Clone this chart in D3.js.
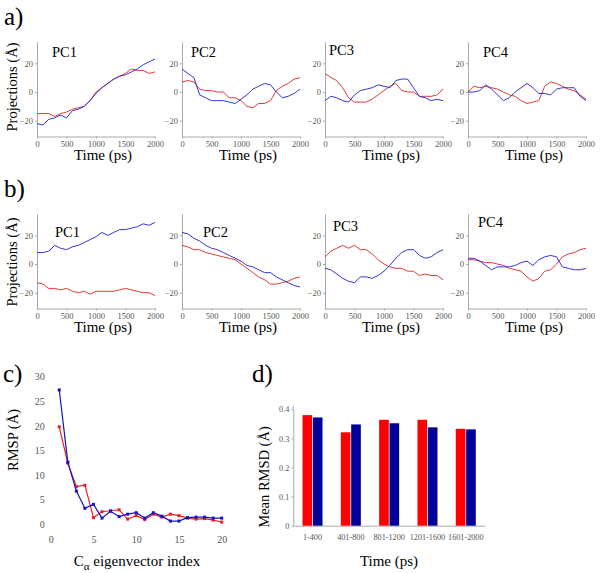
<!DOCTYPE html>
<html>
<head>
<meta charset="utf-8">
<script src="https://cdn.jsdelivr.net/npm/d3@7"></script>
<style>
  body { margin: 0; background: #fff; }
  svg, svg text { font-family: "Liberation Serif", "Times New Roman", serif; }
</style>
</head>
<body>
<div id="fig"></div>
<script>
// time grid (ps) for the projection traces
const time = [0, 100, 200, 300, 400, 500, 600, 700, 800, 900, 1000,
  1100, 1200, 1300, 1400, 1500, 1600, 1700, 1800, 1900, 2000];

// a) projections
const aPC1Blue = [-22, -23, -19, -18, -16, -18, -13, -12, -10, -6, -1, 3, 6, 9, 11, 12, 14, 16, 19, 21, 23];
const aPC1Red  = [-15, -15, -15, -17, -15, -14, -12, -11, -10, -6, 0, 3, 6, 9, 11, 13, 16, 15, 15, 13, 14];
const aPC2Blue = [16, 13, 10, -2, -4, -6, -6, -6, -7, -8, -5, -2, 2, 4, 6, 5, 0, -4, -3, -1, 2];
const aPC2Red  = [7, 8, 7, 2, 1, 1, 0, 0, -4, -4, -6, -10, -11, -8, -8, -6, 1, 4, 6, 9, 10];
const aPC3Blue = [-6, -3, -4, -6, -7, -2, 1, 2, 3, 5, 4, 3, 8, 9, 9, 3, -3, -4, -6, -5, -6];
const aPC3Red  = [13, 10, 8, 3, -4, -7, -7, -7, -5, -2, 1, 4, 6, 1, 0, 0, -3, -3, -3, -2, 2];
const aPC4Blue = [0, 0, 1, 5, 2, -2, -6, -4, 0, 3, 6, 3, -1, -1, -2, 2, 3, 3, 3, -3, -6];
const aPC4Red  = [0, 4, 3, 4, 3, 2, 0, -2, -3, -6, -8, -7, -6, 4, 7, 6, 4, 2, 1, -2, -5];

// b) projections
const bPC1Blue = [8, 8, 9, 13, 11, 10, 12, 13, 15, 17, 19, 22, 20, 22, 24, 24, 25, 26, 28, 27, 29];
const bPC1Red  = [-13, -14, -17, -17, -18, -17, -19, -20, -19, -21, -19, -19, -19, -19, -18, -17, -18, -19, -20, -20, -22];
const bPC2Blue = [22, 21, 18, 16, 13, 11, 10, 8, 6, 4, 2, -1, -2, -4, -6, -6, -9, -11, -13, -15, -16];
const bPC2Red  = [13, 12, 10, 10, 8, 7, 6, 5, 4, 3, 0, -3, -6, -9, -11, -14, -14, -13, -12, -10, -9];
const bPC3Blue = [-3, -4, -7, -10, -12, -13, -9, -9, -10, -8, -5, -1, 4, 8, 10, 10, 6, 4, 5, 8, 10];
const bPC3Red  = [5, 9, 11, 13, 11, 13, 10, 10, 7, 3, 0, -2, -3, -3, -5, -5, -8, -7, -8, -8, -11];
const bPC4Blue = [4, 4, 2, -1, -4, -2, -2, -2, -1, 1, 2, -1, 3, 5, 6, 5, -2, -3, -4, -4, -3];
const bPC4Red  = [3, 3, 2, 1, 1, 0, -1, -3, -4, -5, -9, -12, -10, -5, -4, 0, 5, 7, 8, 10, 11];

// c) RMSP per eigenvector
const eigIndex = [1, 2, 3, 4, 5, 6, 7, 8, 9, 10, 11, 12, 13, 14, 15, 16, 17, 18, 19, 20];
const rmspBlue = [27.3, 12.6, 6.7, 3.2, 4.0, 1.2, 2.6, 1.5, 2.0, 2.3, 1.2, 2.3, 1.6, 0.6, 0.6, 1.3, 1.4, 1.4, 1.2, 1.2];
const rmspRed  = [19.8, 12.4, 7.6, 7.9, 1.3, 2.5, 2.7, 2.9, 1.0, 1.7, 0.9, 2.0, 1.4, 2.0, 1.7, 1.2, 1.0, 1.1, 0.8, 0.4];

// d) mean RMSD per time window
const windows = ['1-400', '401-800', '801-1200', '1201-1600', '1601-2000'];
const rmsdRed  = [0.380, 0.321, 0.364, 0.364, 0.333];
const rmsdBlue = [0.372, 0.348, 0.352, 0.338, 0.331];

const W = 600, H = 573;
const serif = '"Liberation Serif", "Times New Roman", serif';
const lineBlue = '#3535d2', lineRed = '#e03a3a';
const axisGrey = '#aaa', tickText = '#555';

const svg = d3.select('#fig').append('svg')
  .attr('width', W).attr('height', H)
  .attr('viewBox', `0 0 ${W} ${H}`)
  .attr('font-family', serif);

// d3 axes put their own sans-serif on the group, take it back off
const styleTicks = (g, size) => {
  g.selectAll('g').attr('font-family', null).attr('font-size', null);
  g.selectAll('.domain, .tick line').attr('stroke', axisGrey);
  g.selectAll('.tick text')
    .attr('fill', tickText)
    .attr('font-family', serif)
    .attr('font-size', size);
};

// one small projection panel
const drawProj = (x0, yZero, title, titleDx, titleY, blue, red) => {
  const x = d3.scaleLinear().domain([0, 2000]).range([x0, x0 + 118]);
  const y = d3.scaleLinear().domain([-31, 35]).range([yZero + 44.5, yZero - 50.2]);
  const g = svg.append('g');

  g.append('g')
    .attr('transform', `translate(${x0},0)`)
    .call(d3.axisLeft(y).tickValues([-20, 0, 20]).tickSize(2).tickSizeOuter(0).tickPadding(2));

  g.append('g')
    .attr('transform', `translate(0,${y(-31)})`)
    .call(d3.axisBottom(x).tickValues([0, 500, 1000, 1500, 2000]).tickFormat(d3.format('d'))
      .tickSize(2).tickSizeOuter(0).tickPadding(2));

  styleTicks(g, 8.5);

  const line = d3.line()
    .x((d, i) => x(time[i]))
    .y(d => y(d));

  g.append('path').datum(red)
    .attr('fill', 'none').attr('stroke', lineRed).attr('stroke-width', 1)
    .attr('d', line);
  g.append('path').datum(blue)
    .attr('fill', 'none').attr('stroke', lineBlue).attr('stroke-width', 1)
    .attr('d', line);

  g.append('text')
    .attr('x', x0 + titleDx).attr('y', titleY)
    .attr('font-size', 14.5)
    .text(title);

  g.append('text')
    .attr('x', x0 + 66).attr('y', yZero + 68)
    .attr('text-anchor', 'middle')
    .attr('font-size', 15)
    .text('Time (ps)');
};

const cols = [37, 182, 325, 468];

// row a
svg.append('text').attr('x', 4).attr('y', 25).attr('font-size', 25).text('a)');
drawProj(cols[0], 92, 'PC1', 15, 57, aPC1Blue, aPC1Red);
drawProj(cols[1], 92, 'PC2', 9, 57, aPC2Blue, aPC2Red);
drawProj(cols[2], 92, 'PC3', 4, 55, aPC3Blue, aPC3Red);
drawProj(cols[3], 92, 'PC4', 15, 57, aPC4Blue, aPC4Red);
svg.append('text')
  .attr('transform', 'translate(17,87) rotate(-90)')
  .attr('text-anchor', 'middle')
  .attr('font-size', 14.5)
  .text('Projections (Å)');

// row b
svg.append('text').attr('x', 4).attr('y', 197).attr('font-size', 25).text('b)');
drawProj(cols[0], 264, 'PC1', 18, 237, bPC1Blue, bPC1Red);
drawProj(cols[1], 264, 'PC2', 21, 237, bPC2Blue, bPC2Red);
drawProj(cols[2], 264, 'PC3', 8, 231, bPC3Blue, bPC3Red);
drawProj(cols[3], 264, 'PC4', 10, 227, bPC4Blue, bPC4Red);
svg.append('text')
  .attr('transform', 'translate(17,262) rotate(-90)')
  .attr('text-anchor', 'middle')
  .attr('font-size', 14.5)
  .text('Projections (Å)');

// c) RMSP
const cx = d3.scaleLinear().domain([0, 20]).range([50.7, 221.7]);
const cy = d3.scaleLinear().domain([0, 30]).range([524, 376.7]);
const gc = svg.append('g');

gc.append('g')
  .attr('transform', 'translate(50.7,0)')
  .call(d3.axisLeft(cy).ticks(6).tickSize(0).tickPadding(6))
  .call(a => a.select('.domain').remove());
gc.append('g')
  .attr('transform', `translate(0,${cy(0)})`)
  .call(d3.axisBottom(cx).tickValues([0, 5, 10, 15, 20]).tickSize(0).tickPadding(12))
  .call(a => a.select('.domain').remove());
styleTicks(gc, 10);

const cLine = d3.line().x((d, i) => cx(eigIndex[i])).y(d => cy(d));
[[rmspRed, '#e8202a'], [rmspBlue, '#1414c4']].forEach(([vals, col]) => {
  gc.append('path').datum(vals)
    .attr('fill', 'none').attr('stroke', col).attr('stroke-width', 1.2)
    .attr('d', cLine);
  gc.selectAll(null).data(vals).join('rect')
    .attr('x', (d, i) => cx(eigIndex[i]) - 1.5)
    .attr('y', d => cy(d) - 1.5)
    .attr('width', 3).attr('height', 3)
    .attr('fill', col);
});

svg.append('text').attr('x', 3).attr('y', 382).attr('font-size', 25).text('c)');
svg.append('text')
  .attr('transform', 'translate(18,440) rotate(-90)')
  .attr('text-anchor', 'middle')
  .attr('font-size', 14.5)
  .text('RMSP (Å)');
const cLab = svg.append('text')
  .attr('x', 137).attr('y', 566)
  .attr('text-anchor', 'middle')
  .attr('font-size', 15);
cLab.append('tspan').text('C');
cLab.append('tspan').attr('dy', 4).attr('font-size', 11).text('α');
cLab.append('tspan').attr('dy', -4).text(' eigenvector index');

// d) mean RMSD bars
const dx0 = d3.scaleBand().domain(windows).range([293.3, 485]).paddingInner(0.478).paddingOuter(0.24);
const dx1 = d3.scaleBand().domain(['red', 'blue']).range([0, dx0.bandwidth()]).paddingInner(0.07);
const dy = d3.scaleLinear().domain([0, 0.4]).range([525.7, 409.3]);
const gd = svg.append('g');

gd.append('g')
  .attr('transform', 'translate(293.3,0)')
  .call(d3.axisLeft(dy).tickValues([0, 0.1, 0.2, 0.3, 0.4]).tickFormat(d => d === 0 ? '0' : d3.format('.1f')(d))
    .tickSize(2).tickSizeOuter(0).tickPadding(2));
gd.append('line')
  .attr('x1', 293.3).attr('x2', 293.3)
  .attr('y1', dy(0.4)).attr('y2', dy(0.413))
  .attr('stroke', axisGrey);
gd.append('g')
  .attr('transform', `translate(0,${dy(0)})`)
  .call(d3.axisBottom(dx0).tickSize(0).tickSizeOuter(0).tickPadding(8));
styleTicks(gd, 8.2);

const bars = windows.map((w, i) => ({ w, red: rmsdRed[i], blue: rmsdBlue[i] }));
const grp = gd.selectAll('.grp').data(bars).join('g')
  .attr('class', 'grp')
  .attr('transform', d => `translate(${dx0(d.w)},0)`);
grp.append('rect')
  .attr('x', dx1('red')).attr('width', dx1.bandwidth())
  .attr('y', d => dy(d.red)).attr('height', d => dy(0) - dy(d.red))
  .attr('fill', '#ff0000');
grp.append('rect')
  .attr('x', dx1('blue')).attr('width', dx1.bandwidth())
  .attr('y', d => dy(d.blue)).attr('height', d => dy(0) - dy(d.blue))
  .attr('fill', '#000099');

svg.append('text').attr('x', 252).attr('y', 382).attr('font-size', 25).text('d)');
svg.append('text')
  .attr('transform', 'translate(269,477) rotate(-90)')
  .attr('text-anchor', 'middle')
  .attr('font-size', 14.5)
  .text('Mean RMSD (Å)');
svg.append('text')
  .attr('x', 389).attr('y', 566)
  .attr('text-anchor', 'middle')
  .attr('font-size', 15)
  .text('Time (ps)');
</script>
</body>
</html>
